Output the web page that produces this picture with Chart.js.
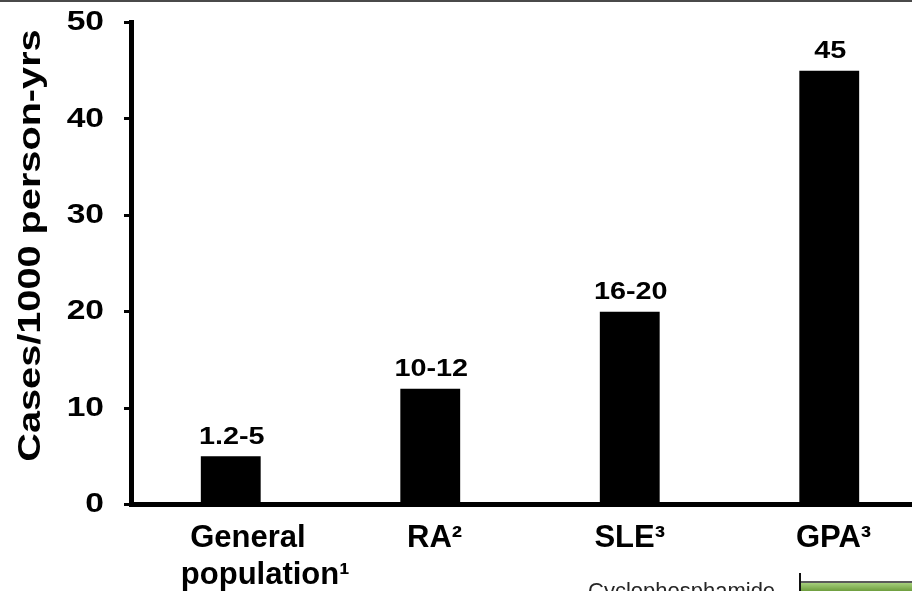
<!DOCTYPE html>
<html>
<head>
<meta charset="utf-8">
<script src="https://cdn.jsdelivr.net/npm/chart.js@4.4.1/dist/chart.umd.min.js"></script>
<style>
  html, body { margin: 0; padding: 0; background: #fff; overflow: hidden; width: 912px; height: 591px; }
  #wrap { position: absolute; left: 0; top: 0; width: 929px; height: 591px; }
  #topRule { position: absolute; left: 0; top: 0; width: 912px; height: 2px; background: #4a4a4a; }
  #drug { position: absolute; left: 588px; top: 580px; font: 22px "Liberation Sans", Arial, sans-serif; line-height: 22px; color: #262626; white-space: nowrap; }
  #drugDivider { position: absolute; left: 799px; top: 573px; width: 2px; height: 18px; background: #111; }
  #drugBar { position: absolute; left: 801px; top: 581px; width: 111px; height: 10px; box-sizing: border-box; border-top: 2px solid #5a5a5a; background: linear-gradient(#a6cf7c, #6e9e3e); }
</style>
</head>
<body>
<div id="wrap"><canvas id="chart" width="929" height="591"></canvas></div>
<div id="topRule"></div>
<div id="drug">Cyclophosphamide</div>
<div id="drugDivider"></div>
<div id="drugBar"></div>
<script>
// Incidence of serious infection by patient group
const NB = '\u00a0';
const categories = [
  [NB.repeat(4) + 'General', NB.repeat(8) + 'population¹'],
  NB + 'RA²',
  'SLE³',
  NB + 'GPA³'
];
const incidence = [5, 12, 20, 45];           // upper end of each reported range
const valueLabels = ['1.2-5', '10-12', '16-20', '45'];
const yTickValues = [0, 10, 20, 30, 40, 50];
const yTitle = 'Cases/1000 person-yrs';

const FONT = '"Liberation Sans", Arial, Helvetica, sans-serif';
const WIDE = 1.2;   // horizontal stretch of the numeric / title lettering
Chart.defaults.font.family = FONT;
Chart.defaults.color = '#000';

function wideText(ctx, text, x, y, stretch, align) {
  ctx.save();
  ctx.translate(x, y);
  ctx.scale(stretch, 1);
  ctx.textAlign = align;
  ctx.fillText(text, 0, 0);
  ctx.restore();
}

// Range labels printed above each bar
const barValueLabels = {
  id: 'barValueLabels',
  afterDatasetsDraw(chart) {
    const ctx = chart.ctx;
    const meta = chart.getDatasetMeta(0);
    ctx.save();
    ctx.font = 'bold 24px ' + FONT;
    ctx.fillStyle = '#000';
    ctx.textBaseline = 'alphabetic';
    meta.data.forEach((bar, i) => {
      wideText(ctx, valueLabels[i], bar.x + 1, bar.y - 12.5, WIDE, 'center');
    });
    ctx.restore();
  }
};

// Y tick numbers, drawn at the scale's own tick positions
const yTickLabels = {
  id: 'yTickLabels',
  afterDraw(chart) {
    const scale = chart.scales.y;
    const ctx = chart.ctx;
    ctx.save();
    ctx.font = 'bold 28px ' + FONT;
    ctx.fillStyle = '#000';
    ctx.textBaseline = 'middle';
    scale.ticks.forEach(t => {
      wideText(ctx, String(t.value), scale.right - 27, scale.getPixelForValue(t.value), WIDE, 'right');
    });
    ctx.restore();
  }
};

// Rotated y axis title
const yAxisTitle = {
  id: 'yAxisTitle',
  afterDraw(chart) {
    const ctx = chart.ctx;
    const area = chart.chartArea;
    ctx.save();
    ctx.font = 'bold 32px ' + FONT;
    ctx.fillStyle = '#000';
    ctx.textBaseline = 'alphabetic';
    ctx.translate(40, (area.top + area.bottom) / 2 - 18);
    ctx.rotate(-Math.PI / 2);
    wideText(ctx, yTitle, 0, 0, 1.24, 'center');
    ctx.restore();
  }
};

new Chart(document.getElementById('chart'), {
  type: 'bar',
  data: {
    labels: categories,
    datasets: [{
      data: incidence,
      backgroundColor: '#000',
      borderWidth: 0,
      barPercentage: 0.3,
      categoryPercentage: 1.0
    }]
  },
  options: {
    responsive: false,
    devicePixelRatio: 1,
    animation: false,
    layout: { padding: { top: 22.5, left: 0, right: 0, bottom: 0 } },
    plugins: {
      legend: { display: false },
      tooltip: { enabled: false },
      title: { display: false }
    },
    scales: {
      x: {
        offset: true,
        grid: { display: false, drawTicks: false },
        border: { display: true, color: '#000', width: 5 },
        ticks: {
          color: '#000',
          padding: 15,
          maxRotation: 0,
          autoSkip: false,
          font: { size: 31, weight: 'bold', lineHeight: 1.2 }
        },
        afterFit(scale) { scale.height = 86.5; }
      },
      y: {
        min: 0,
        max: 50,
        afterBuildTicks(scale) { scale.ticks = yTickValues.map(v => ({ value: v })); },
        grid: { drawOnChartArea: false, drawTicks: true, tickLength: 7, tickWidth: 3, tickColor: '#000' },
        border: { display: true, color: '#000', width: 5 },
        ticks: { display: false },
        afterFit(scale) {
          scale.width = 131;
          scale.paddingTop = 0;
          scale.paddingBottom = 0;
        }
      }
    }
  },
  plugins: [barValueLabels, yTickLabels, yAxisTitle]
});
</script>
</body>
</html>
